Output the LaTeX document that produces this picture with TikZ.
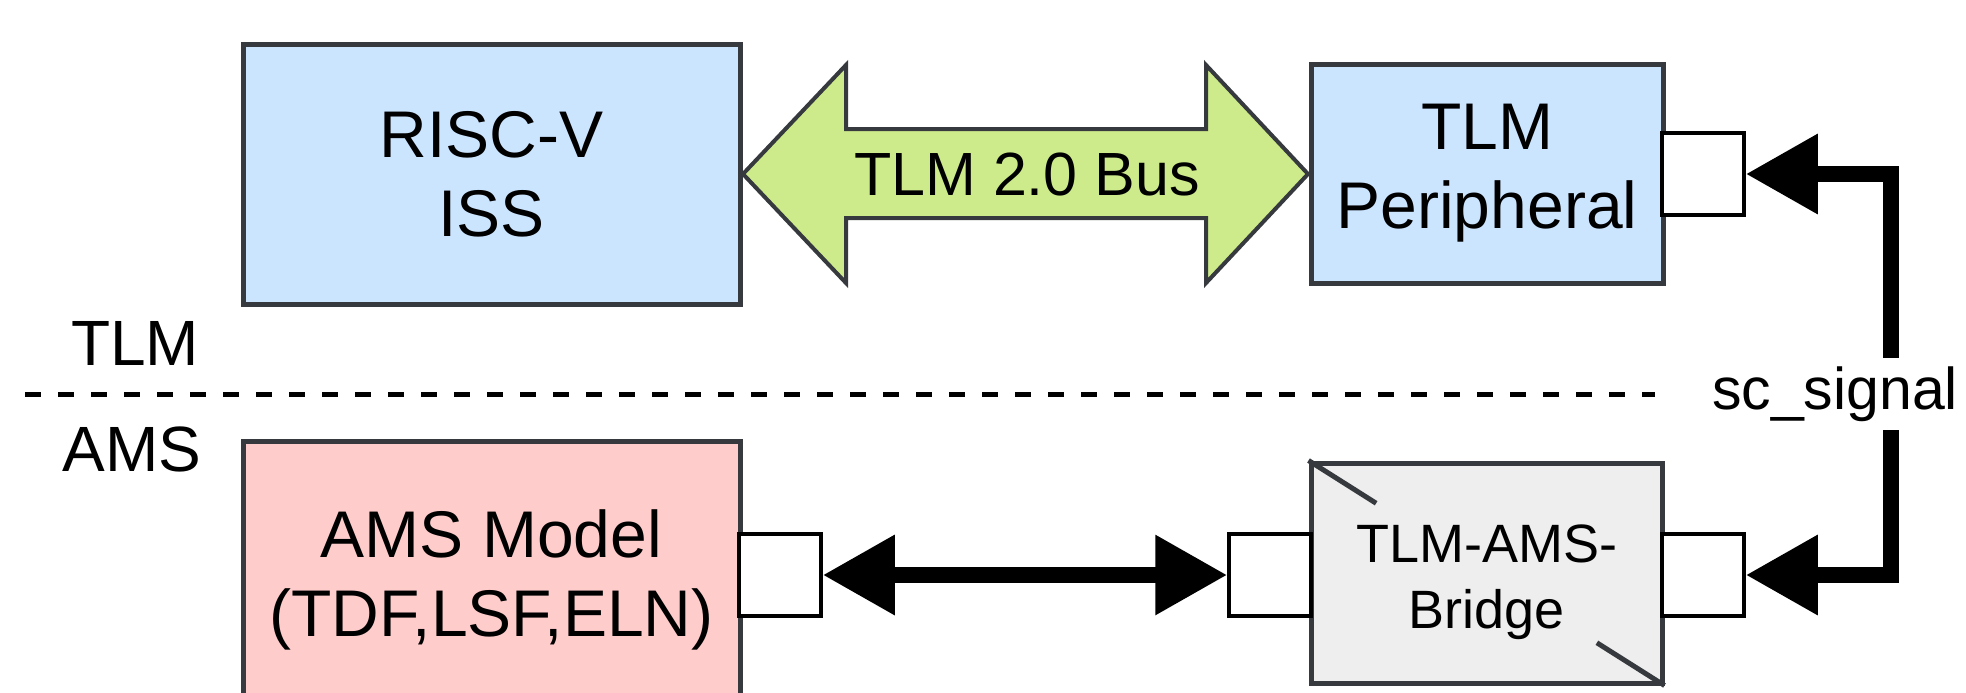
\documentclass[tikz,border=0pt]{standalone}
\usepackage{fontspec}
\setmainfont{Liberation Sans}
\usetikzlibrary{arrows.meta,calc}
\definecolor{blueF}{HTML}{CCE5FF}
\definecolor{pinkF}{HTML}{FFCCCC}
\definecolor{greenF}{HTML}{CDEB8B}
\definecolor{grayF}{HTML}{EEEEEE}
\definecolor{edge}{HTML}{36393D}
\begin{document}
\begin{tikzpicture}[x=0.5pt,y=-0.5pt,
  box/.style={draw=edge, line width=2.5pt, align=center, inner sep=0pt, font=\fontsize{33}{39.5}\selectfont},
  port/.style={draw=black, fill=white, line width=1.75pt, minimum width=41pt, minimum height=41pt, inner sep=0pt},
  wire/.style={line width=8pt, {Triangle[length=36pt,width=38pt]}-{Triangle[length=36pt,width=38pt]}},
  lbl/.style={font=\fontsize{32}{38}\selectfont, inner sep=0pt},
  divider/.style={line width=2.5pt, dash pattern=on 8pt off 8.5pt},
  corner/.style={draw=edge, line width=2.5pt}
]
\useasboundingbox (0,0) rectangle (1966,692);
\clip (0,0) rectangle (1966,692);

% layer divider
\coordinate (divL) at (25,394);
\coordinate (divR) at (1655,394);
\draw[divider] (divL) -- (divR);
\node[lbl] (tlm) at (135,343) {TLM};
\node[lbl] (amsl) at (132,449) {AMS};

% TLM bus (double arrow shape)
\filldraw[fill=greenF, draw=edge, line width=2pt, line join=miter]
  (743,174) -- (846,65) -- (846,129) -- (1206,129) -- (1206,65) -- (1308,174)
  -- (1206,283) -- (1206,218) -- (846,218) -- (846,283) -- cycle;
\node[lbl, font=\fontsize{30.5}{36}\selectfont] (bus) at (1027,174) {TLM 2.0 Bus};

% blocks
\node[box, fill=blueF, minimum width=248.5pt, minimum height=130pt] (risc) at (491.5,174) {RISC-V\\ISS};
\node[box, fill=blueF, minimum width=176pt, minimum height=109.5pt] (periph) at (1487,173.5) {TLM\\Peripheral};
\node[box, fill=pinkF, minimum width=248.5pt, minimum height=139pt] (ams) at (491.5,580) {AMS Model\\(TDF,LSF,ELN)};
\node[box, fill=grayF, minimum width=175.5pt, minimum height=110pt] (bridge) at (1486.5,573) {};
\node[align=center, inner sep=0pt, font=\fontsize{27}{33}\selectfont] (bridgetxt) at (1486.5,582) {TLM-AMS-\\Bridge};
\draw[corner] (bridge.north west) -- ($(bridge.north west)!0.19!(bridge.south east)$);
\draw[corner] ($(bridge.north west)!0.81!(bridge.south east)$) -- (bridge.south east);

% ports
\node[port] (pport) at (1703,174) {};
\node[port] (aport) at (780,575) {};
\node[port] (bportl) at (1270,575) {};
\node[port] (bportr) at (1703,575) {};

% connectors
\draw[wire] (aport.east) -- (bportl.west);
\coordinate (sigx) at (1891,394);
\draw[wire] (pport.east) -- (pport.east -| sigx) -- (bportr.east -| sigx) -- (bportr.east);
\node[fill=white, inner sep=0pt, minimum height=36pt, font=\fontsize{29.5}{35}\selectfont] (sig) at (1835,394) {sc\_signal};
\end{tikzpicture}
\end{document}
